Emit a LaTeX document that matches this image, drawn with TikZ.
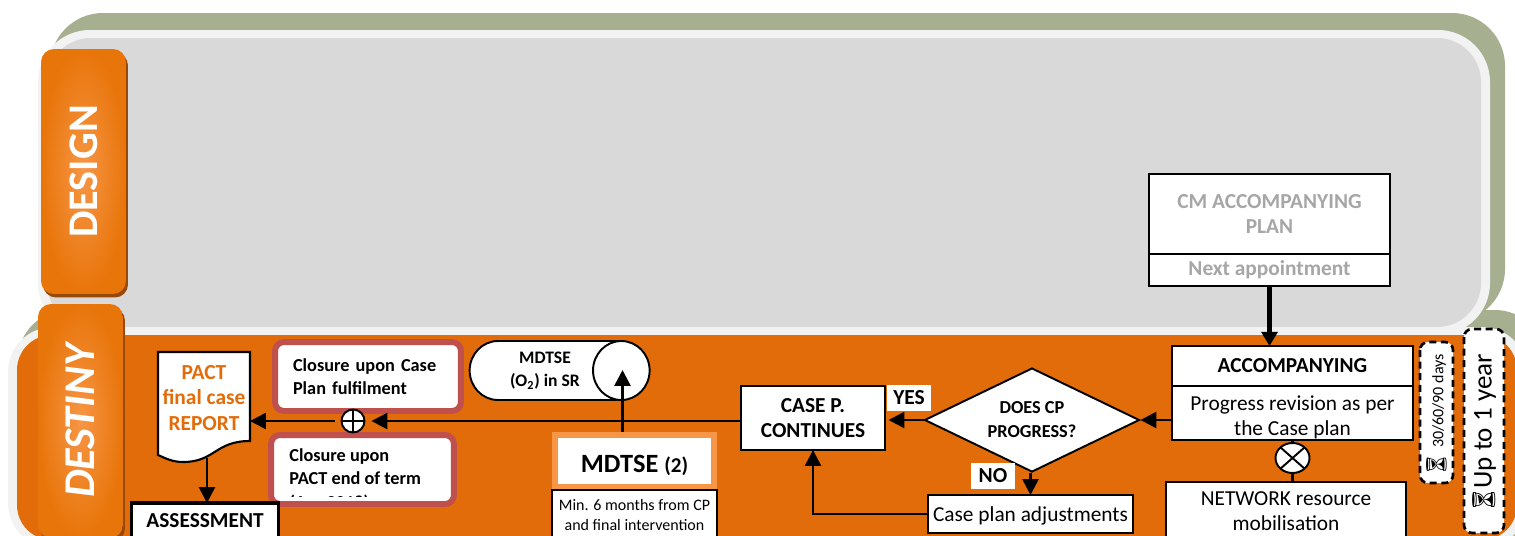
\documentclass[tikz,border=0pt]{standalone}
\usepackage{fontspec}
\setmainfont{Carlito}
\newfontfamily\emojifont{Noto Emoji}
\usetikzlibrary{shapes.geometric,arrows.meta,positioning,shadows}
\definecolor{moss}{HTML}{A6B091}
\definecolor{pale}{HTML}{F2F2F2}
\definecolor{slab}{HTML}{D9D9D9}
\definecolor{rust}{HTML}{E36C0A}
\definecolor{tabglow}{HTML}{F79646}
\definecolor{tabedge}{HTML}{E8750A}
\definecolor{tabdark}{HTML}{984807}
\definecolor{brick}{HTML}{C0504D}
\definecolor{faded}{HTML}{A6A6A6}
\newcommand{\lift}[1]{\rule{0pt}{#1}}

\begin{document}
\begin{tikzpicture}[x=0.02cm,y=-0.02cm,
      tab/.style={rectangle, rounded corners=0.26cm, minimum width=4.9cm, minimum height=1.7cm,
                  inner color=tabglow, outer color=tabedge, rotate=90, text=white,
                  drop shadow={shadow xshift=0.04cm, shadow yshift=-0.07cm, opacity=1, fill=tabdark},
                  font=\fontsize{24}{30}\selectfont\bfseries},
      wbox/.style={rectangle, draw=black, fill=white, line width=1.2pt, inner sep=0pt, outer sep=0pt,
                   align=center, font=\fontsize{12.15}{14.4}\selectfont},
      bbox/.style={wbox, font=\fontsize{12.15}{14.6}\selectfont\bfseries},
      tag/.style={rectangle, fill=white, inner sep=0pt, minimum width=0.88cm, minimum height=0.52cm,
                  font=\fontsize{12.2}{13}\selectfont\bfseries},
      closure/.style={rectangle, rounded corners=0.18cm, draw=brick, fill=white, line width=3.4pt,
                      inner sep=0pt, align=left, font=\fontsize{10.4}{13.4}\selectfont\bfseries},
      timer/.style={rectangle, rounded corners=0.16cm, draw=black, fill=white, line width=1.5pt,
                    dash pattern=on 4pt off 2.6pt, rotate=90, inner sep=0pt},
      gate/.style={circle, draw=black, fill=white, line width=1.1pt, inner sep=0pt},
      arr/.style={-{Triangle[length=9pt,width=9pt]}, line width=1.5pt, color=black}
    ]
      \clip[use as bounding box] (0,0) rectangle (1515,535);
      % backdrop of the two bands
      \fill[moss, rounded corners=1.06cm] (50,13) rectangle (1505,322);
      \fill[moss, rounded corners=1cm] (18,310) rectangle (1545,560);
      \fill[pale, rounded corners=1.04cm] (38,30) rectangle (1490,335);
      \fill[slab, rounded corners=0.88cm] (47,38) rectangle (1481,327);
      \fill[pale, rounded corners=0.9cm] (8,327) rectangle (1527,548);
      \fill[rust, rounded corners=0.7cm] (17,335) rectangle (1517,540);

      \node[tab] (design) at (83.5,171.5) {DESIGN};
      \node[tab, minimum width=4.68cm, font=\fontsize{25}{30}\selectfont\bfseries\itshape] (destiny) at (80.5,421) {DESTINY};

      % design band
      \node[bbox, text=faded, minimum width=4.82cm, minimum height=1.6cm] (cmplan) at (1269.5,214) {CM ACCOMPANYING\\PLAN};
      \node[bbox, text=faded, minimum width=4.82cm, minimum height=0.64cm, below=0pt of cmplan] (nextappt) {Next appointment};

      % right column
      \node[bbox, minimum width=4.82cm, minimum height=0.8cm] (acchead) at (1292.5,366) {ACCOMPANYING};
      \node[wbox, minimum width=4.82cm, minimum height=1.08cm, below=0pt of acchead] (accrev) {\lift{13pt}Progress revision as per\\the Case plan};
      \node[gate, ellipse, minimum width=0.68cm, minimum height=0.6cm,
            path picture={\draw[line width=1.1pt] (path picture bounding box.north west) -- (path picture bounding box.south east)
                          (path picture bounding box.north east) -- (path picture bounding box.south west);}] (gatex) at (1292.5,458) {};
      \node[wbox, minimum width=4.8cm, minimum height=1.16cm] (network) at (1286,511) {NETWORK resource\\mobilisation};
      \node[timer, minimum width=2.82cm, minimum height=0.66cm, font=\fontsize{9.1}{10}\selectfont] (shortwait) at (1436.5,412.5)
        {\makebox[7pt][c]{\emojifont\fontsize{11.5}{10}\selectfont\char"23F3}\hspace{6pt}30/60/90 days};
      \node[timer, minimum width=4.08cm, minimum height=0.8cm, font=\fontsize{15.4}{17}\selectfont] (longwait) at (1484,431)
        {\makebox[9.5pt][c]{\emojifont\fontsize{13}{10}\selectfont\char"23F3}\hspace{1.5pt}Up to 1 year};

      % decision
      \node[diamond, draw=black, fill=white, line width=1.1pt, inner sep=0pt, minimum width=4.3cm, minimum height=2.08cm,
            aspect=2.07, align=center, font=\fontsize{10.4}{13.6}\selectfont\bfseries] (doescp) at (1032,420) {DOES CP\\PROGRESS?};
      \node[bbox, minimum width=2.88cm, minimum height=1.28cm] (casep) at (813,418) {CASE P.\\CONTINUES};
      \node[wbox, minimum width=4.1cm, minimum height=0.76cm] (adjust) at (1030.5,514) {\lift{11pt}Case plan adjustments};
      \node[tag] (yes) at (909,398) {YES};
      \node[tag] (no) at (993,476) {NO};

      % centre
      \node[cylinder, draw=black, fill=white, line width=1.1pt, shape aspect=1.5, minimum width=1.18cm, minimum height=3.6cm,
            inner sep=0pt, align=center, cylinder uses custom fill, cylinder body fill=white, cylinder end fill=white,
            font=\fontsize{10}{13.4}\selectfont\bfseries] (mdtseo) at (545,370.5) {MDTSE\\(O\textsubscript{2}) in SR};
      \coordinate (mdtsetip) at (622.5,370);
      \node[rectangle, draw=tabglow, fill=white, line width=3.4pt, inner sep=0pt, minimum width=3.18cm, minimum height=1.04cm,
            font=\fontsize{15}{16}\selectfont\bfseries] (mdtse) at (634.5,461) {\lift{15pt}MDTSE {\fontsize{12}{13}\selectfont(2)}};
      \node[wbox, minimum width=3.3cm, minimum height=1cm, font=\fontsize{9.1}{11.4}\selectfont] (minsix) at (634.5,515) {Min. 6 months from CP\\and final intervention};

      % closures
      \node[closure, minimum width=3.72cm, minimum height=1.38cm, text width=3cm] (closecase) at (368,376.5) {Closure upon Case\\Plan fulfilment};
      \node[closure, minimum width=3.66cm, minimum height=1.38cm] (closeterm) at (362.5,469.5) {};
      \begin{scope}
        \clip (280,440) rectangle (450,496);
        \node[anchor=north west, inner sep=0pt, align=left, font=\fontsize{10.4}{13.4}\selectfont\bfseries] (closetermtxt) at (289,448) {Closure upon\\PACT end of term\\(Apr 2018)};
      \end{scope}
      \node[gate, minimum size=0.46cm,
            path picture={\draw[line width=1.1pt] (path picture bounding box.north) -- (path picture bounding box.south)
                          (path picture bounding box.west) -- (path picture bounding box.east);}] (gateplus) at (353,421) {};

      % report
      \draw[line width=1.2pt, fill=white] (158,352) -- (250,352) -- (250,441)
        .. controls (215,441) and (215,462) .. (183,462) .. controls (172,462) and (165,458) .. (158,455) -- cycle;
      \node[minimum width=1.84cm, minimum height=2.12cm, inner sep=0pt, outer sep=0pt] (report) at (204,405) {};
      \node[align=center, text=rust, inner sep=0pt, font=\fontsize{12.2}{14.4}\selectfont\bfseries] (reporttxt) at (204,398) {PACT\\final case\\REPORT};
      \node[bbox, line width=1.9pt, minimum width=2.94cm, minimum height=0.72cm] (assess) at (205,521) {ASSESSMENT};

      % connectors
      \draw[arr, line width=2.6pt, -{Triangle[length=8pt,width=9pt]}] (nextappt.south) -- (nextappt.south |- acchead.north);
      \draw[arr] (accrev.west |- doescp) -- (doescp.east);
      \draw[arr, shorten >=2pt] (doescp.west) -- (doescp.west -| casep.east);
      \draw[arr] (adjust.north |- doescp.south) -- (adjust.north);
      \draw[arr, rounded corners=0pt] (adjust.west) -| (casep.south);
      \draw[arr, shorten >=3.4pt] (gateplus -| casep.west) -- (gateplus.east);
      \draw[arr, shorten <=3.4pt] (gateplus.west) -- (gateplus -| report.east);
      \draw[arr] (mdtsetip |- mdtse.north) -- (mdtsetip);
      \draw[arr] ([xshift=0.06cm]report.south) -- ([xshift=0.06cm]report.south |- assess.north);
      \draw[line width=1.3pt] (accrev.south) -- (gatex.north);
      \draw[line width=1.3pt] (gatex.south) -- (gatex.south |- network.north);
    \end{tikzpicture}
\end{document}
